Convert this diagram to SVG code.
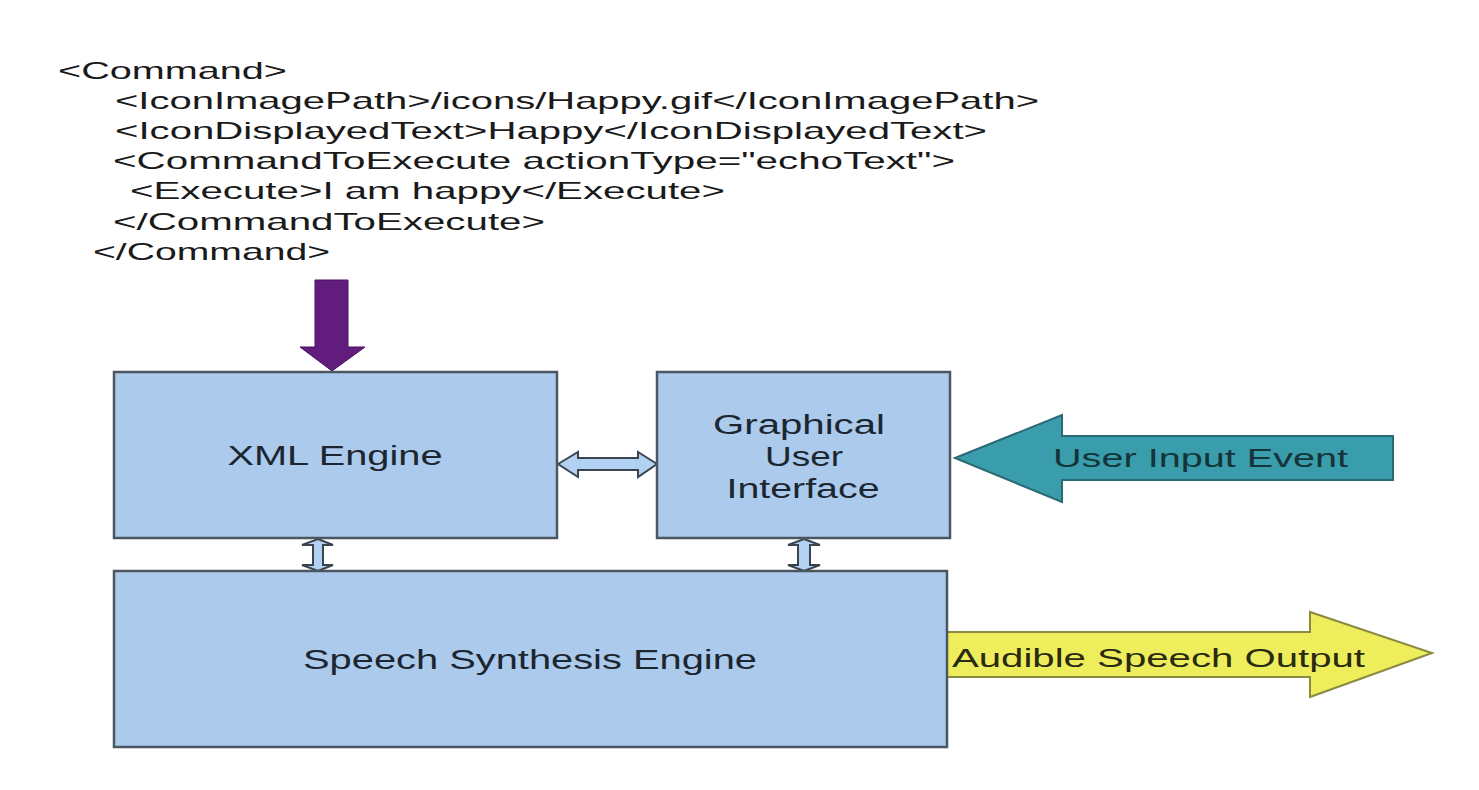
<svg xmlns="http://www.w3.org/2000/svg" width="1479" height="790" viewBox="0 0 1479 790">
<style>
.xml{font-family:"Liberation Sans",Arial,sans-serif;font-size:24px;fill:#1a1a1a}
.box{fill:#abcaec;stroke:#4b5660;stroke-width:2.5}
.lbl{font-family:"Liberation Sans",Arial,sans-serif;font-size:27px;fill:#1c2630;text-anchor:middle}
.blu{fill:#b3d1f2;stroke:#3a4550;stroke-width:2}
</style>
<rect width="1479" height="790" fill="#ffffff"/>
<g id="xml-text">
<text class="xml" x="58" y="79" textLength="229" lengthAdjust="spacingAndGlyphs">&lt;Command&gt;</text>
<text class="xml" x="115" y="109" textLength="924" lengthAdjust="spacingAndGlyphs">&lt;IconImagePath&gt;/icons/Happy.gif&lt;/IconImagePath&gt;</text>
<text class="xml" x="115" y="139" textLength="872" lengthAdjust="spacingAndGlyphs">&lt;IconDisplayedText&gt;Happy&lt;/IconDisplayedText&gt;</text>
<text class="xml" x="113" y="169" textLength="842" lengthAdjust="spacingAndGlyphs">&lt;CommandToExecute actionType="echoText"&gt;</text>
<text class="xml" x="130" y="199" textLength="595" lengthAdjust="spacingAndGlyphs">&lt;Execute&gt;I am happy&lt;/Execute&gt;</text>
<text class="xml" x="113" y="230" textLength="432" lengthAdjust="spacingAndGlyphs">&lt;/CommandToExecute&gt;</text>
<text class="xml" x="93" y="260" textLength="237" lengthAdjust="spacingAndGlyphs">&lt;/Command&gt;</text>
</g>
<g id="connectors">
<polygon points="315,280 348,280 348,347 365,347 332,371 300,347 315,347" fill="#621c7e" stroke="#4a1060" stroke-width="1"/>
<polygon class="blu" points="558,464 578,452 578,458 638,458 638,452 657,464 638,477 638,470 578,470 578,477"/>
<polygon class="blu" points="318,539 333,545 323,545 323,565 333,565 318,571 302,565 313,565 313,545 302,545"/>
<polygon class="blu" points="804,539 820,545 810,545 810,565 820,565 804,571 788,565 798,565 798,545 788,545"/>
<polygon points="955,458 1062,415 1062,436 1393,436 1393,480 1062,480 1062,502" fill="#3a9dab" stroke="#2a6a75" stroke-width="2"/>
<polygon points="947,632 1310,632 1310,612 1432,653 1310,697 1310,677 947,677" fill="#eeee5c" stroke="#8a8a40" stroke-width="2"/>
<text x="1053" y="467" font-family="Liberation Sans, Arial, sans-serif" font-size="26" fill="#15343a" textLength="295" lengthAdjust="spacingAndGlyphs">User Input Event</text>
<text x="952" y="667" font-family="Liberation Sans, Arial, sans-serif" font-size="26" fill="#2a2a10" textLength="413" lengthAdjust="spacingAndGlyphs">Audible Speech Output</text>
</g>
<g id="xml-engine">
<rect class="box" x="114" y="372" width="443" height="166"/>
<text class="lbl" x="335" y="465" textLength="215" lengthAdjust="spacingAndGlyphs">XML Engine</text>
</g>
<g id="gui">
<rect class="box" x="657" y="372" width="293" height="166"/>
<text class="lbl" x="799" y="434" textLength="172" lengthAdjust="spacingAndGlyphs">Graphical</text>
<text class="lbl" x="804" y="466" textLength="78" lengthAdjust="spacingAndGlyphs">User</text>
<text class="lbl" x="803" y="498" textLength="153" lengthAdjust="spacingAndGlyphs">Interface</text>
</g>
<g id="speech-engine">
<rect class="box" x="114" y="571" width="833" height="176"/>
<text class="lbl" x="530" y="669" textLength="454" lengthAdjust="spacingAndGlyphs">Speech Synthesis Engine</text>
</g>
</svg>
